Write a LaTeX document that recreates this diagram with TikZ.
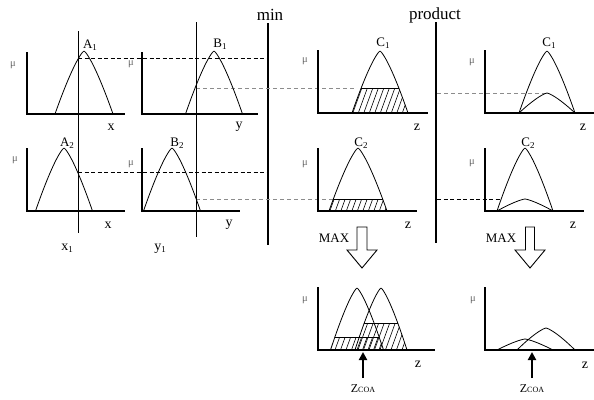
\documentclass[tikz,border=0pt]{standalone}
\usepackage{fontspec}
\setmainfont{Liberation Serif}
\usetikzlibrary{arrows.meta}
\newcommand\bell[4]{plot[domain=-1:1,samples=60,smooth] ({#1+\x*#2},{#4-#3*(1-abs(\x)^1.3)})}
\newcommand\subl[2]{#1\raisebox{-0.3ex}{\fontsize{9}{9}\selectfont #2}}
\newcommand\hatchfill[2]{\foreach \k in {0,...,22} {\draw[hline] ({#1+5.5*\k},#2) ++(-12,33) -- ++(24,-66);}}
\begin{document}
\begin{tikzpicture}[x=1pt,y=-1pt,
  axis/.style={line width=1.5pt},
  curve/.style={line width=0.8pt},
  guide/.style={line width=1pt},
  sep/.style={line width=2pt},
  hline/.style={line width=0.6pt},
  bdash/.style={line width=1pt,dash pattern=on 4pt off 2.5pt},
  gdash/.style={line width=0.8pt,black!45,dash pattern=on 4pt off 3pt},
  title/.style={font=\fontsize{17}{17}\selectfont,inner sep=0pt},
  fname/.style={font=\fontsize{13}{13}\selectfont,inner sep=0pt},
  axl/.style={font=\fontsize{14}{14}\selectfont,inner sep=0pt},
  maxl/.style={font=\fontsize{13}{13}\selectfont,inner sep=0pt},
  mu/.style={font=\fontsize{10.5}{10.5}\selectfont,text=black!60,inner sep=0pt},
  coal/.style={font=\fontsize{12}{12}\selectfont,inner sep=0pt},
  hollow/.style={line width=0.9pt,fill=white},
  coa/.style={line width=2.2pt,-{Triangle[length=8pt,width=8pt]}},
]
\useasboundingbox (0,0) rectangle (594,399);

% ---- separators and titles
\node[title] (tmin) at (270,15) {min};
\node[title] (tprod) at (435,15) {product};
\draw[sep] (268,23) -- (268,245);
\draw[sep] (436,22) -- (436,243);

% ---- hatched areas (min column)
\begin{scope}
  \clip \bell{380}{28}{62}{113} -- cycle;
  \clip (300,88) rectangle (440,113);
  \hatchfill{330}{100}
  \draw[curve] (340,88) -- (420,88);
\end{scope}
\begin{scope}
  \clip \bell{358}{29}{63}{211} -- cycle;
  \clip (300,199) rectangle (440,211);
  \hatchfill{310}{205}
  \draw[curve] (320,199) -- (400,199);
\end{scope}
\begin{scope}
  \clip \bell{357}{26.5}{62}{350} -- cycle;
  \clip (300,337) rectangle (440,350);
  \hatchfill{310}{343}
  \draw[curve] (320,337) -- (400,337);
\end{scope}
\begin{scope}
  \clip \bell{381}{26}{62}{350} -- cycle;
  \clip (300,323) rectangle (440,350);
  \hatchfill{330}{336}
  \draw[curve] (340,323) -- (420,323);
\end{scope}

% ---- dashed level lines
\draw[bdash] (78,58) -- (268,58);
\draw[gdash] (196,88) -- (354,88);
\draw[bdash] (78,172) -- (268,172);
\draw[gdash] (196,199) -- (333,199);
\draw[gdash] (437,93) -- (545,93);
\draw[bdash] (437,199) -- (500,199);

% ---- input guides
\draw[guide] (78,31) -- (78,233);
\draw[guide] (196,22) -- (196,237);

% ---- A1
\draw[curve] \bell{84}{29}{63}{114};
\draw[axis] (27,52) -- (27,114) -- (125,114);
\node[fname] (A1) at (90,45) {\subl{A}{1}};
\node[mu] (muA1) at (13,65) {μ};
\node[axl] (xA1) at (111,127) {x};
% ---- B1
\draw[curve] \bell{214}{28.5}{63}{114};
\draw[axis] (142,52) -- (142,114) -- (258,114);
\node[fname] (B1) at (220,44) {\subl{B}{1}};
\node[mu] (muB1) at (131,64) {μ};
\node[axl] (yB1) at (239,127) {y};
% ---- A2
\draw[curve] \bell{64}{28.5}{63}{211};
\draw[axis] (27,148) -- (27,211) -- (125,211);
\node[fname] (A2) at (67,143) {\subl{A}{2}};
\node[mu] (muA2) at (15,160) {μ};
\node[axl] (xA2) at (108,225) {x};
% ---- B2
\draw[curve] \bell{172}{28.5}{63}{211};
\draw[axis] (142,148) -- (142,211) -- (240,211);
\node[fname] (B2) at (177,143) {\subl{B}{2}};
\node[mu] (muB2) at (131,164) {μ};
\node[axl] (yB2) at (229,225) {y};
\node[axl] (x1) at (67,248) {\subl{x}{1}};
\node[axl] (y1) at (160,249) {\subl{y}{1}};

% ---- C1 min
\draw[curve] \bell{380}{28}{62}{113};
\draw[axis] (318,50) -- (318,113) -- (428,113);
\node[fname] (C1m) at (383,43) {\subl{C}{1}};
\node[mu] (muC1m) at (305,61) {μ};
\node[axl] (zC1m) at (417,127) {z};
% ---- C1 product
\draw[curve] \bell{547}{28}{62}{113};
\draw[curve] \bell{547}{28}{20}{113};
\draw[axis] (485,50) -- (485,113) -- (594,113);
\node[fname] (C1p) at (549,43) {\subl{C}{1}};
\node[mu] (muC1p) at (472,62) {μ};
\node[axl] (zC1p) at (583,127) {z};
% ---- C2 min
\draw[curve] \bell{358}{29}{63}{211};
\draw[axis] (318,148) -- (318,211) -- (417,211);
\node[fname] (C2m) at (361,143) {\subl{C}{2}};
\node[mu] (muC2m) at (305,164) {μ};
\node[axl] (zC2m) at (408,225) {z};
% ---- C2 product
\draw[curve] \bell{525}{28}{63}{211};
\draw[curve] \bell{525}{28}{12}{211};
\draw[axis] (485,148) -- (485,211) -- (584,211);
\node[fname] (C2p) at (528,143) {\subl{C}{2}};
\node[mu] (muC2p) at (472,163) {μ};
\node[axl] (zC2p) at (573,225) {z};

% ---- MAX arrows
\node[maxl] (max1) at (334,238) {MAX};
\draw[hollow] (357,227) -- (367,227) -- (367,250) -- (377,250) -- (362,268) -- (347,250) -- (357,250) -- cycle;
\node[maxl] (max2) at (501,238) {MAX};
\draw[hollow] (525.5,227) -- (534.5,227) -- (534.5,250) -- (545,250) -- (530,268) -- (515,250) -- (525.5,250) -- cycle;

% ---- aggregated (min)
\draw[curve] \bell{357}{26.5}{62}{350};
\draw[curve] \bell{381}{26}{62}{350};
\draw[axis] (318,287) -- (318,350) -- (435,350);
\node[mu] (muAm) at (305,300) {μ};
\node[axl] (zAm) at (418,364) {z};
\coordinate (t1) at (363,378);
\coordinate (h1) at (363,352);
\draw[coa] (t1) -- (h1);
\node[coal] (zcoa1) at (363,389) {Z{\fontsize{8}{8}\selectfont COA}};

% ---- aggregated (product)
\draw[curve] \bell{525}{28}{11}{350};
\draw[curve] \bell{546}{29}{22}{350};
\draw[axis] (485,287) -- (485,350) -- (594,350);
\node[mu] (muAp) at (473,300) {μ};
\node[axl] (zAp) at (585,365) {z};
\coordinate (t2) at (532,378);
\coordinate (h2) at (532,352);
\draw[coa] (t2) -- (h2);
\node[coal] (zcoa2) at (532,389) {Z{\fontsize{8}{8}\selectfont COA}};
\end{tikzpicture}
\end{document}
